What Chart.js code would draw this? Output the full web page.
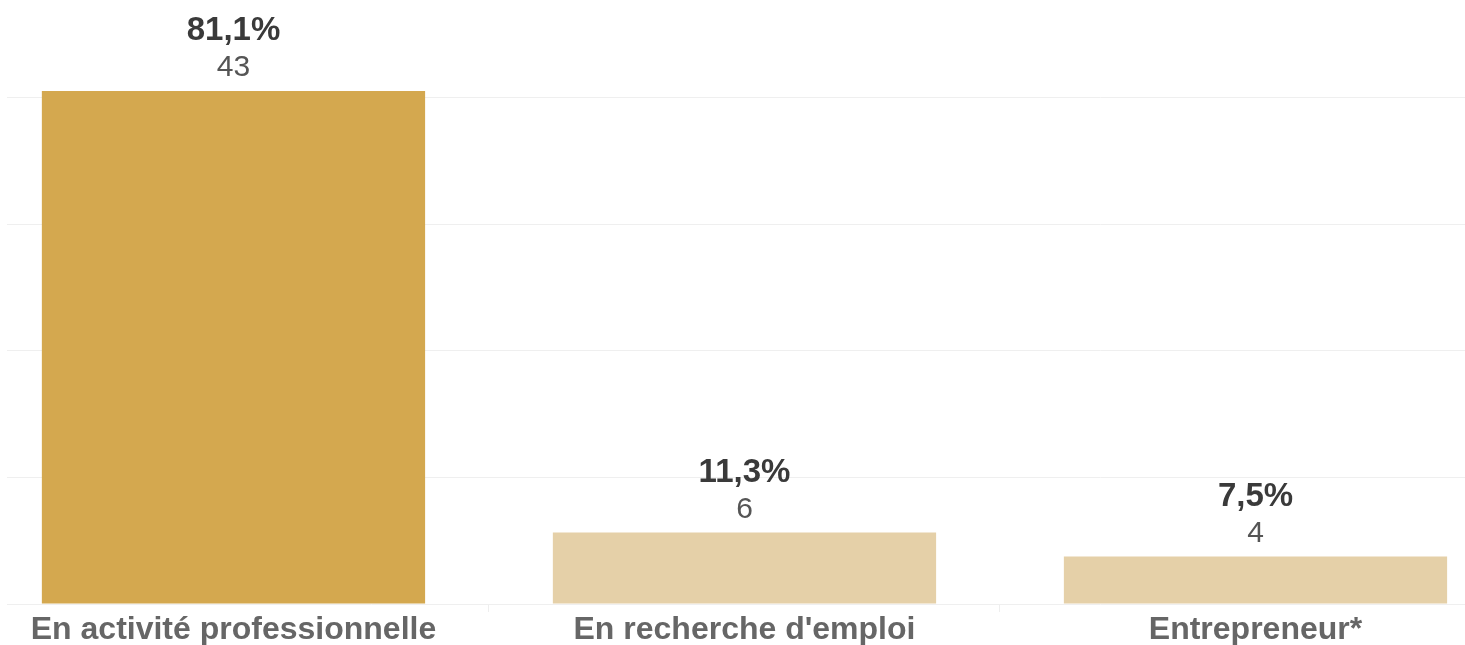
<!DOCTYPE html>
<html>
<head>
<meta charset="utf-8">
<script src="https://cdn.jsdelivr.net/npm/chart.js@4"></script>
<style>
  html, body { margin: 0; padding: 0; background: #fff; overflow: hidden; }
  #wrap { position: relative; width: 1465px; height: 645px; }
</style>
</head>
<body>
<div id="wrap"><canvas id="chart"></canvas></div>
<script>
// données
const categories = ['En activité professionnelle', "En recherche d'emploi", 'Entrepreneur*'];
const percents = [81.1, 11.3, 7.5];
const counts = [43, 6, 4];
const barColors = ['#D4A84F', '#E5D0A8', '#E5D0A8'];
const gridTicks = [0, 20, 40, 60, 80];

const FONT = '"Liberation Sans", Arial, sans-serif';

// étiquettes au-dessus des barres
const valueLabels = {
  id: 'valueLabels',
  afterDatasetsDraw(chart) {
    const ctx = chart.ctx;
    const meta = chart.getDatasetMeta(0);
    ctx.save();
    ctx.textAlign = 'center';
    ctx.textBaseline = 'alphabetic';
    meta.data.forEach((bar, i) => {
      ctx.fillStyle = '#3a3a3a';
      ctx.font = 'bold 33px ' + FONT;
      ctx.fillText(percents[i].toFixed(1).replace('.', ',') + '%', bar.x, bar.y - 51);
      ctx.fillStyle = '#555555';
      ctx.font = '30px ' + FONT;
      ctx.fillText(String(counts[i]), bar.x, bar.y - 15);
    });
    ctx.restore();
  }
};

new Chart(document.getElementById('chart'), {
  type: 'bar',
  data: {
    datasets: [{
      data: percents.map((p, i) => ({ x: i, y: p })),
      backgroundColor: barColors,
      borderWidth: 0,
      categoryPercentage: 0.75,
      barPercentage: 1
    }]
  },
  options: {
    responsive: true,
    maintainAspectRatio: false,
    animation: false,
    layout: { padding: { top: 3, left: 0, right: 0, bottom: 0 } },
    plugins: {
      legend: { display: false },
      tooltip: { enabled: false }
    },
    scales: {
      x: {
        type: 'linear',
        offset: false,
        min: -0.4432,
        max: 2.41,
        afterBuildTicks: s => { s.ticks = [0, 1, 2].map(v => ({ value: v })); },
        afterFit: s => { s.height = 41; s.paddingLeft = 0; s.paddingRight = 0; },
        border: { display: false },
        grid: {
          offset: true,
          drawOnChartArea: false,
          drawTicks: true,
          tickLength: 8,
          color: '#eeeeee'
        },
        ticks: {
          autoSkip: false,
          maxRotation: 0,
          padding: -1,
          color: '#666666',
          font: { family: FONT, size: 32, weight: 'bold' },
          callback: v => categories[v]
        }
      },
      y: {
        min: 0,
        max: 95,
        afterBuildTicks: s => { s.ticks = gridTicks.map(v => ({ value: v })); },
        afterFit: s => { s.width = 7; },
        border: { display: false },
        grid: { color: '#efefef', lineWidth: 1, drawTicks: false },
        ticks: { display: false }
      }
    }
  },
  plugins: [valueLabels]
});
</script>
</body>
</html>
